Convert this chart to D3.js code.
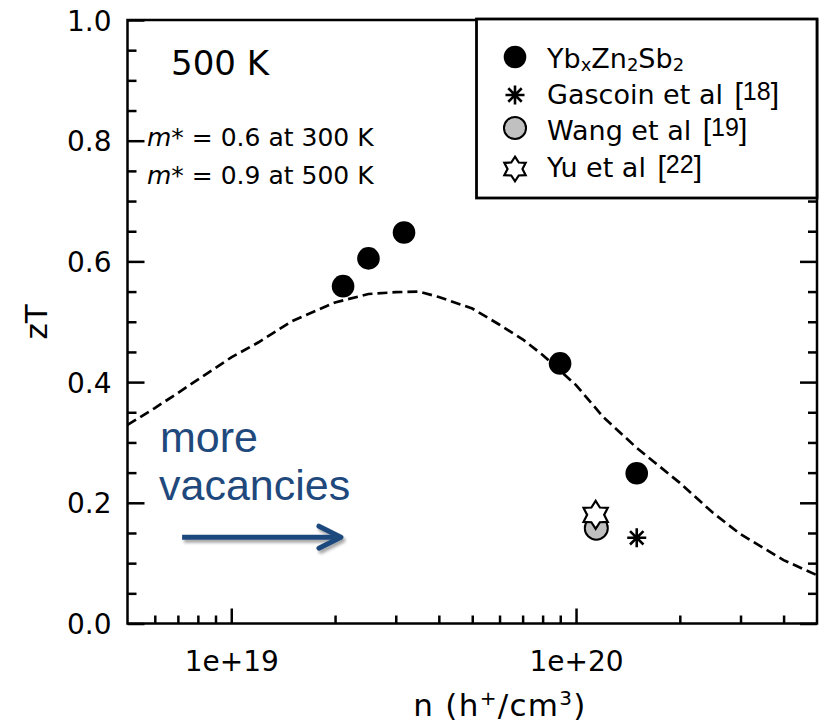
<!DOCTYPE html>
<html>
<head>
<meta charset="utf-8">
<script src="https://cdn.jsdelivr.net/npm/d3@7"></script>
<style>
  html, body { margin: 0; padding: 0; background: #fff; }
  svg { display: block; }
  text { font-family: "DejaVu Sans", sans-serif; }
</style>
</head>
<body>
<svg id="chart" width="821" height="724"></svg>
<script>
// Model curve (dashed): zT vs hole concentration at 500 K
const curveN  = [5e18, 6e18, 7e18, 1e19, 1.2e19, 1.5e19, 2e19, 2.5e19, 3e19, 3.5e19, 4e19, 5e19,
                 6e19, 7e19, 8e19, 1e20, 1.2e20, 1.5e20, 2e20, 2.5e20, 3e20, 4e20, 5e20];
const curveZT = [0.329, 0.357, 0.382, 0.441, 0.466, 0.501, 0.532, 0.546, 0.549, 0.550, 0.541, 0.522,
                 0.495, 0.471, 0.445, 0.395, 0.342, 0.291, 0.233, 0.183, 0.148, 0.105, 0.080];

// Measured samples
const ybN  = [2.11e19, 2.50e19, 3.17e19, 8.99e19, 1.50e20];
const ybZT = [0.559, 0.605, 0.648, 0.431, 0.249];
const gascoinN = [1.50e20], gascoinZT = [0.142];
const wangN    = [1.145e20], wangZT = [0.158];
const yuN      = [1.14e20], yuZT = [0.180];

// Axis ticks
const xMajor = [1e19, 1e20];
const xMinor = [6e18, 7e18, 8e18, 9e18, 2e19, 3e19, 4e19, 5e19, 6e19, 7e19, 8e19, 9e19, 2e20, 3e20, 4e20];
const yMajor = [0, 0.2, 0.4, 0.6, 0.8, 1.0];
const yMinor = [0.05, 0.1, 0.15, 0.25, 0.3, 0.35, 0.45, 0.5, 0.55, 0.65, 0.7, 0.75, 0.85, 0.9, 0.95];

// Legend entries: text pieces flagged as subscript (1) or normal (0)
const legendItems = [
  { key: "yb",   label: [["Yb", 0], ["x", 1], ["Zn", 0], ["2", 1], ["Sb", 0], ["2", 1]], ref: null },
  { key: "gas",  label: [["Gascoin et al ", 0]], ref: "18" },
  { key: "wang", label: [["Wang et al ", 0]], ref: "19" },
  { key: "yu",   label: [["Yu et al ", 0]], ref: "22" }
];

const svg = d3.select("#chart");
const L = 127.5, R = 817, T = 20, B = 623.5;

const x = d3.scaleLog().domain([5e18, 5e20]).range([L, R]);
const y = d3.scaleLinear().domain([0, 1]).range([B, T]);

const ink = "#000";
const navy = "#1f497d";
const sans2 = "Liberation Sans, Arial, sans-serif";

// drop shadow for the annotation arrow
const defs = svg.append("defs");
const f = defs.append("filter").attr("id", "shadow").attr("x", "-20%").attr("y", "-60%")
  .attr("width", "140%").attr("height", "220%");
f.append("feDropShadow").attr("dx", 2).attr("dy", 3).attr("stdDeviation", 1.6)
  .attr("flood-color", "#000").attr("flood-opacity", 0.35);

// ---- axes ----
function styleAxis(g) {
  g.select(".domain").remove();
  g.selectAll(".tick line").attr("stroke", ink).attr("stroke-width", 2.5);
  g.selectAll(".tick text").style("font-family", "DejaVu Sans, sans-serif").style("fill", ink);
}

svg.append("g").attr("transform", `translate(0,${B})`)
  .call(d3.axisBottom(x).tickValues(xMinor).tickSize(-8).tickFormat(""))
  .call(styleAxis);
svg.append("g").attr("transform", `translate(0,${B})`)
  .call(d3.axisBottom(x).tickValues(xMajor).tickSize(-15).tickPadding(28)
        .tickFormat(d => d3.format(".0e")(d)))
  .call(styleAxis)
  .call(g => g.selectAll(".tick text").attr("font-size", 28));

svg.append("g").attr("transform", `translate(${L},0)`)
  .call(d3.axisLeft(y).tickValues(yMinor).tickSize(-9).tickFormat(""))
  .call(styleAxis);
svg.append("g").attr("transform", `translate(${L},0)`)
  .call(d3.axisLeft(y).tickValues(yMajor).tickSize(-17).tickPadding(16).tickFormat(d3.format(".1f")))
  .call(styleAxis)
  .call(g => g.selectAll(".tick text").attr("font-size", 28).attr("dy", "0.36em"));

svg.append("g").attr("transform", `translate(${R},0)`)
  .call(d3.axisRight(y).tickValues(yMinor).tickSize(-9).tickFormat(""))
  .call(styleAxis);
svg.append("g").attr("transform", `translate(${R},0)`)
  .call(d3.axisRight(y).tickValues(yMajor).tickSize(-17).tickFormat(""))
  .call(styleAxis);

// frame
svg.append("rect").attr("x", L).attr("y", T).attr("width", R - L).attr("height", B - T)
  .attr("fill", "none").attr("stroke", ink).attr("stroke-width", 2.5);

// ---- model curve ----
const curve = curveN.map((n, i) => [n, curveZT[i]]);
svg.append("path").datum(curve)
  .attr("fill", "none").attr("stroke", ink).attr("stroke-width", 2.7)
  .attr("stroke-dasharray", "10,5")
  .attr("d", d3.line().x(d => x(d[0])).y(d => y(d[1])));

// ---- markers ----
function starPath(R1, r1) {
  const pts = [];
  for (let k = 0; k < 12; k++) {
    const a = -Math.PI / 2 + k * Math.PI / 6;
    const rr = k % 2 === 0 ? R1 : r1;
    pts.push([rr * Math.cos(a), rr * Math.sin(a)]);
  }
  return "M" + pts.map(p => p.join(",")).join("L") + "Z";
}
function asteriskPath(s) {
  let p = "";
  for (let k = 0; k < 4; k++) {
    const a = k * Math.PI / 4;
    const dx = s * Math.cos(a), dy = s * Math.sin(a);
    p += `M${-dx},${-dy}L${dx},${dy}`;
  }
  return p;
}
const markers = {
  yb:   (g, s) => g.append("circle").attr("r", 11.3 * s).attr("fill", ink),
  gas:  (g, s) => g.append("path").attr("d", asteriskPath(9.5 * s)).attr("stroke", ink).attr("stroke-width", 2.6).attr("fill", "none"),
  wang: (g, s) => g.append("circle").attr("r", 11.5 * s).attr("fill", "#c0c0c0").attr("stroke", ink).attr("stroke-width", 2),
  yu:   (g, s) => g.append("path").attr("d", starPath(14 * s, 8.5 * s)).attr("fill", "#fff").attr("stroke", ink).attr("stroke-width", 2.2)
};

function drawSeries(ns, zts, key) {
  ns.forEach((n, i) => {
    const g = svg.append("g").attr("transform", `translate(${x(n)},${y(zts[i])})`);
    markers[key](g, 1);
  });
}
drawSeries(ybN, ybZT, "yb");
drawSeries(wangN, wangZT, "wang");
drawSeries(yuN, yuZT, "yu");
drawSeries(gascoinN, gascoinZT, "gas");

// ---- annotations ----
svg.append("text").attr("x", 171).attr("y", 75).attr("font-size", 34).style("fill", ink).text("500 K");

const mLines = [["0.6", "300"], ["0.9", "500"]];
mLines.forEach((m, i) => {
  const t = svg.append("text").attr("x", 147).attr("y", 146 + i * 37.5).attr("font-size", 25).style("fill", ink);
  t.append("tspan").attr("font-style", "italic").text("m");
  t.append("tspan").text(`* = ${m[0]} at ${m[1]} K`);
});

// "more vacancies" arrow
svg.append("text").attr("x", 160).attr("y", 452).attr("font-size", 43)
  .style("font-family", sans2).style("fill", navy).text("more");
svg.append("text").attr("x", 159).attr("y", 500).attr("font-size", 43)
  .style("font-family", sans2).style("fill", navy).text("vacancies");
const arrowY = y(0.143), ax0 = x(7.2e18), ax1 = x(2.08e19);
const arrow = svg.append("g").attr("filter", "url(#shadow)")
  .attr("stroke", navy).attr("stroke-width", 5).attr("fill", "none");
arrow.append("line").attr("x1", ax0).attr("y1", arrowY).attr("x2", ax1 - 2).attr("y2", arrowY);
arrow.append("path").attr("stroke-linejoin", "round").attr("stroke-linecap", "round")
  .attr("d", `M${ax1 - 22},${arrowY - 11}L${ax1},${arrowY}L${ax1 - 22},${arrowY + 11}`);

// ---- axis titles ----
svg.append("text").attr("transform", "translate(47,322) rotate(-90)")
  .attr("text-anchor", "middle").attr("font-size", 31).style("fill", ink).text("zT");
const xt = svg.append("text").attr("x", 500).attr("y", 716).attr("text-anchor", "middle")
  .attr("font-size", 31).attr("letter-spacing", 1.3).style("fill", ink);
xt.append("tspan").text("n (h");
xt.append("tspan").attr("font-size", 20).attr("dy", -11).text("+");
xt.append("tspan").attr("dy", 11).text("/cm");
xt.append("tspan").attr("font-size", 20).attr("dy", -11).text("3");
xt.append("tspan").attr("dy", 11).text(")");

// ---- legend ----
const lg = svg.append("g");
lg.append("rect").attr("x", 476.5).attr("y", 19).attr("width", R - 476.5).attr("height", 179)
  .attr("fill", "#fff").attr("stroke", ink).attr("stroke-width", 2.8);
const rowBase = [68, 104, 140, 177];
const symY = [57, 95, 128, 169];
const symScale = { yb: 1, gas: 1, wang: 0.96, yu: 0.88 };
legendItems.forEach((it, i) => {
  const g = lg.append("g").attr("transform", `translate(515,${symY[i]})`);
  markers[it.key](g, symScale[it.key]);

  const t = lg.append("text").attr("x", 547).attr("y", rowBase[i]).attr("font-size", 27).style("fill", ink);
  let shifted = 0;
  it.label.forEach(([s, sub]) => {
    const dy = sub ? 3 - shifted : -shifted;
    shifted = sub ? 3 : 0;
    const ts = t.append("tspan").attr("dy", dy).text(s);
    if (sub) ts.attr("font-size", 18);
  });
  if (it.ref) {
    t.append("tspan").style("font-family", sans2).attr("font-size", 30).attr("dx", 3).text("[");
    t.append("tspan").style("font-family", sans2).attr("font-size", 25).attr("dy", -4).text(it.ref);
    t.append("tspan").style("font-family", sans2).attr("font-size", 30).attr("dy", 4).text("]");
  }
});
</script>
</body>
</html>
